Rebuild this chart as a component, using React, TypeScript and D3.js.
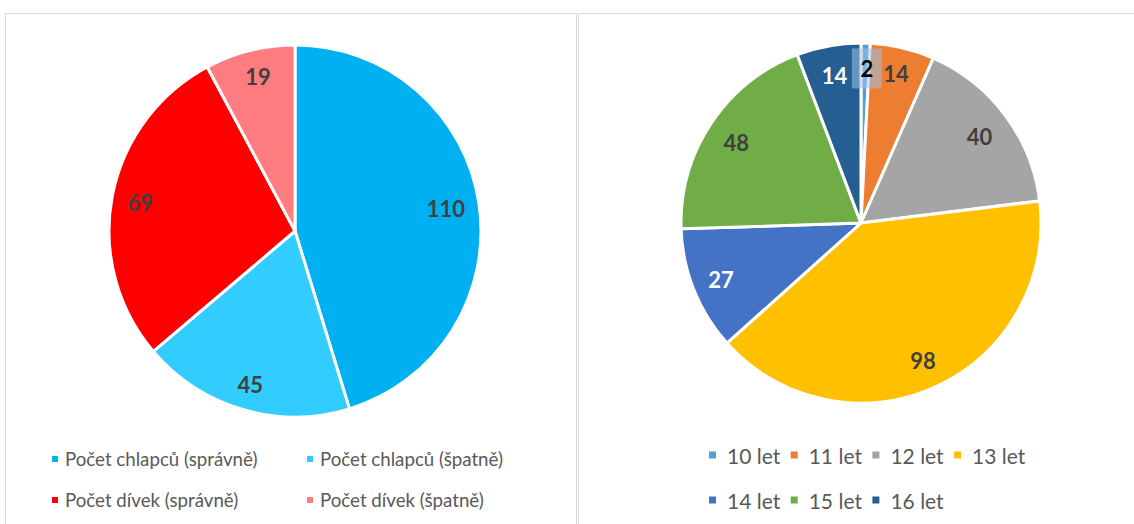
import React from "react";
import * as d3 from "d3";

const leftCategories = ["Počet chlapců (správně)", "Počet chlapců (špatně)", "Počet dívek (správně)", "Počet dívek (špatně)"];
const leftValues = [110, 45, 69, 19];
const leftColors = ["#00B0F0", "#33CCFF", "#FF0000", "#FF7C80"];
const leftLabelColors = ["#404040", "#404040", "#404040", "#404040"];

const rightCategories = ["10 let", "11 let", "12 let", "13 let", "14 let", "15 let", "16 let"];
const rightValues = [2, 14, 40, 98, 27, 48, 14];
const rightColors = ["#5B9BD5", "#ED7D31", "#A5A5A5", "#FFC000", "#4472C4", "#70AD47", "#255E91"];
const rightLabelColors = ["#000000", "#404040", "#404040", "#404040", "#FFFFFF", "#404040", "#FFFFFF"];

const FONT = "Lato, 'Open Sans', sans-serif";

function Pie({ cx, cy, r, values, colors, labelColors, labelFactor, labelOffsets, labelBox }: any) {
  const pie = d3.pie<number>().sort(null).value((d) => d);
  const arcs = pie(values);
  const arc = d3.arc<d3.PieArcDatum<number>>().innerRadius(0).outerRadius(r);
  const labelArc = d3.arc<d3.PieArcDatum<number>>().innerRadius(r * labelFactor).outerRadius(r * labelFactor);
  return (
    <g transform={`translate(${cx},${cy})`}>
      {arcs.map((a, i) => (
        <path key={i} d={arc(a) || ""} fill={colors[i]} stroke="#fff" strokeWidth={3} strokeLinejoin="round" />
      ))}
      {arcs.map((a, i) => {
        const [x, y] = labelArc.centroid(a);
        const off = (labelOffsets && labelOffsets[i]) || [0, 0];
        return (
          <g key={"t" + i}>
            {labelBox && labelBox.index === i ? (
              <rect x={x + off[0] - labelBox.w / 2} y={y + off[1] - labelBox.h / 2} width={labelBox.w} height={labelBox.h}
                fill={labelBox.fill} opacity={labelBox.opacity} />
            ) : null}
            <text x={x + off[0]} y={y + off[1]} textAnchor="middle" dominantBaseline="central"
              fontFamily={FONT} fontWeight="bold" fontSize={22} fill={labelColors[i]}>
              {values[i]}
            </text>
          </g>
        );
      })}
    </g>
  );
}

export default function App() {
  return (
    <svg width={1134} height={524} style={{ position: "absolute", left: 0, top: 0, background: "#fff" }}>
      <rect x={5.5} y={13.5} width={571} height={520} fill="#fff" stroke="#D9D9D9" strokeWidth={1} />
      <rect x={578.5} y={13.5} width={570} height={520} fill="#fff" stroke="#D9D9D9" strokeWidth={1} />

      <Pie cx={295} cy={231} r={186} values={leftValues} colors={leftColors} labelColors={leftLabelColors}
        labelFactor={0.82} labelOffsets={[[0, 0], [-2, 7], [-5, 0], [0, -7]]} />

      <Pie cx={861} cy={223} r={180} values={rightValues} colors={rightColors} labelColors={rightLabelColors}
        labelFactor={0.82} labelOffsets={[[2, -7], [1, -6], [0, 2], [1, 3], [-3, 2], [-2, 1], [0, -2]]}
        labelBox={{ index: 0, w: 30, h: 40, fill: "#9DC3E6", opacity: 0.55 }} />

      {leftCategories.map((c, i) => {
        const col = i % 2;
        const row = Math.floor(i / 2);
        const x = 52 + col * 255;
        const y = 459 + row * 41;
        return (
          <g key={c}>
            <rect x={x} y={y - 3} width={6} height={6} fill={leftColors[i]} />
            <text x={x + 13} y={y} dominantBaseline="central" fontFamily={FONT} fontSize={18.7} fill="#595959">{c}</text>
          </g>
        );
      })}

      {rightCategories.map((c, i) => {
        const col = i < 4 ? i : i - 4;
        const row = i < 4 ? 0 : 1;
        const x = 709 + col * 81.7;
        const y = 455 + row * 45;
        return (
          <g key={c}>
            <rect x={x} y={y - 3.5} width={7} height={7} fill={rightColors[i]} />
            <text x={x + 18} y={y} dominantBaseline="central" fontFamily={FONT} fontSize={21} fill="#595959">{c}</text>
          </g>
        );
      })}
    </svg>
  );
}
